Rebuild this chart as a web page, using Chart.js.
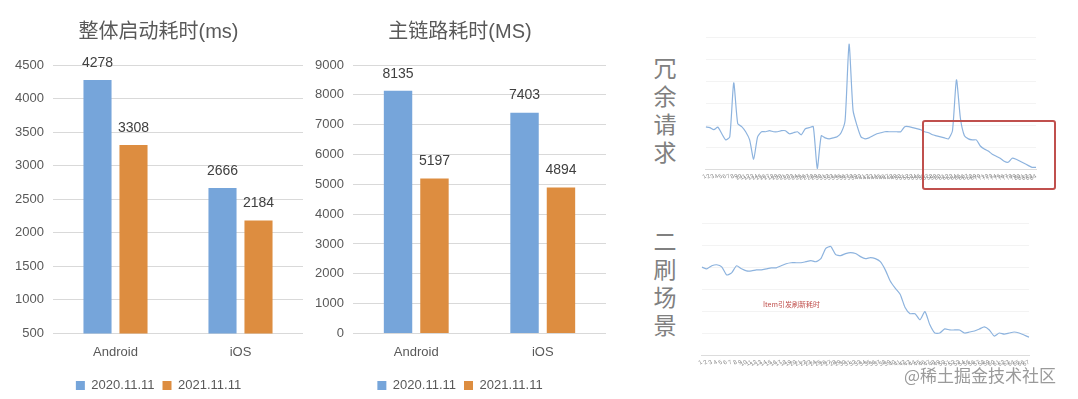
<!DOCTYPE html>
<html>
<head>
<meta charset="utf-8">
<script src="https://cdn.jsdelivr.net/npm/chart.js@4.4.0/dist/chart.umd.min.js"></script>
<style>
body{margin:0;background:#fff;width:1078px;height:399px;overflow:hidden;position:relative;font-family:"Liberation Sans","Noto Sans CJK SC",sans-serif}
.box{position:absolute}
.vtext{position:absolute;left:651px;width:28px;font-family:"Noto Sans CJK SC";color:#808080;font-size:23px;line-height:28px;text-align:center}
.mark{position:absolute;left:922px;top:120px;width:130px;height:66px;border:2px solid #c0504d;border-radius:3px}
.note{position:absolute;left:763px;top:299px;font-family:"Noto Sans CJK SC";font-size:7px;color:#c0504d}
.wm{position:absolute;left:904px;top:362px;font-family:"Noto Sans CJK SC";font-size:17px;color:#9a9a9a;text-shadow:0 0 2px #fff}
</style>
</head>
<body>
<div class="box" style="left:0;top:0;width:320px;height:402px"><canvas id="startup"></canvas></div>
<div class="box" style="left:300px;top:0;width:323px;height:402px"><canvas id="mainlink"></canvas></div>

<div class="vtext" style="top:53px">冗<br>余<br>请<br>求</div>
<div class="box" style="left:700px;top:25px;width:345px;height:160px"><canvas id="requests"></canvas></div>
<div class="mark"></div>

<div class="vtext" style="top:226px">二<br>刷<br>场<br>景</div>
<div class="box" style="left:696px;top:211px;width:345px;height:160px"><canvas id="refresh"></canvas></div>
<div class="note">Item引发刷新耗时</div>
<div class="wm">@稀土掘金技术社区</div>

<script>
var platforms = ['Android', 'iOS'];
var seriesNames = ['2020.11.11', '2021.11.11'];
var startup2020 = [4278, 2666];
var startup2021 = [3308, 2184];
var mainLink2020 = [8135, 7403];
var mainLink2021 = [5197, 4894];

var redundantRequest = [
    41.7, 41, 39, 41.5, 35, 29, 32, 85, 45, 42, 37, 29, 10, 32, 37, 37, 38, 37, 37, 38,
    38, 35, 36, 37, 34, 40, 41, 42, 1, 33, 31, 30, 31, 32, 36, 48, 123, 58, 43, 32,
    30, 31, 33, 35, 36, 37, 37, 37, 37, 37, 42, 42, 41, 40, 39, 37, 36, 34, 33, 32,
    31, 30, 38, 88, 50, 33, 30, 29, 29, 23, 20, 18, 15, 13, 11, 8, 7, 11, 10, 8,
    6, 4, 2, 2
];
var secondRefresh = [
    86.7, 85, 88, 89, 87, 79, 81, 88, 85, 83, 83, 84, 84, 85, 86, 86, 88, 90, 91, 91,
    91, 92, 93, 92, 95, 105, 107, 99, 98, 100, 101, 100, 97, 95, 96, 95, 92, 84, 73, 66,
    60, 47, 41, 41, 35, 43, 30, 22, 22, 26, 25, 25, 25, 22, 23, 24, 26, 28, 25, 19,
    22, 21, 22, 23, 22, 20, 18
];

var blue = '#76a5da';
var orange = '#dd8d40';
var textGray = '#595959';
var gridGray = '#d9d9d9';
var baseFont = '"Liberation Sans", "Noto Sans CJK SC", sans-serif';

var valueLabels = {
    id: 'valueLabels',
    afterDatasetsDraw: function (chart) {
        var ctx = chart.ctx;
        ctx.save();
        ctx.font = '14px ' + baseFont;
        ctx.fillStyle = '#404040';
        ctx.textAlign = 'center';
        ctx.textBaseline = 'middle';
        chart.data.datasets.forEach(function (ds, i) {
            chart.getDatasetMeta(i).data.forEach(function (bar, j) {
                ctx.fillText(ds.data[j], bar.x, bar.y - 17);
            });
        });
        ctx.restore();
    }
};

function barChart(id, title, a, b, min, max, step) {
    return new Chart(document.getElementById(id), {
        type: 'bar',
        data: {
            labels: platforms,
            datasets: [
                { label: seriesNames[0], data: a, backgroundColor: blue },
                { label: seriesNames[1], data: b, backgroundColor: orange }
            ]
        },
        options: {
            responsive: true,
            maintainAspectRatio: false,
            animation: false,
            categoryPercentage: 0.576,
            barPercentage: 0.78,
            layout: { padding: { left: 14, right: 17, top: 0, bottom: 0 } },
            plugins: {
                title: {
                    display: true, text: title, color: textGray,
                    font: { family: baseFont, size: 20, weight: 'normal' },
                    padding: { top: 20, bottom: 21 }
                },
                legend: {
                    position: 'bottom',
                    labels: {
                        boxWidth: 9, boxHeight: 9, padding: 8, color: textGray,
                        font: { family: baseFont, size: 13 }
                    }
                },
                tooltip: { enabled: false }
            },
            scales: {
                x: {
                    grid: { display: false, drawTicks: false },
                    border: { display: false },
                    ticks: { color: textGray, padding: 11, font: { family: baseFont, size: 13 } }
                },
                y: {
                    min: min, max: max,
                    afterFit: function (scale) { scale.width = 39; },
                    grid: { color: gridGray, drawTicks: false },
                    border: { display: false },
                    ticks: {
                        stepSize: step, color: textGray, padding: 9,
                        font: { family: baseFont, size: 13 },
                        callback: function (v) { return String(v); }
                    }
                }
            }
        },
        plugins: [valueLabels]
    });
}

barChart('startup', '整体启动耗时(ms)', startup2020, startup2021, 500, 4500, 500);
barChart('mainlink', '主链路耗时(MS)', mainLink2020, mainLink2021, 0, 9000, 1000);

function lineChart(id, values, padding) {
    var samples = values.map(function (v, i) { return String(i + 1); });
    return new Chart(document.getElementById(id), {
        type: 'line',
        data: {
            labels: samples,
            datasets: [{
                data: values, borderColor: '#8db3de', borderWidth: 1.2,
                pointRadius: 0, tension: 0.2, fill: false
            }]
        },
        options: {
            responsive: true,
            maintainAspectRatio: false,
            animation: false,
            layout: { padding: padding },
            plugins: { legend: { display: false }, tooltip: { enabled: false } },
            scales: {
                x: {
                    offset: false,
                    grid: { display: false, drawTicks: false },
                    border: { color: '#dcdcdc' },
                    ticks: {
                        autoSkip: false, minRotation: 30, maxRotation: 30, padding: 3,
                        color: '#8f8f8f', font: { family: baseFont, size: 6 }
                    }
                },
                y: {
                    min: 0, max: 130,
                    grid: { color: '#f3f3f3', drawTicks: false },
                    border: { display: false },
                    ticks: { display: false, stepSize: 130 / 6 }
                }
            }
        }
    });
}

lineChart('requests', redundantRequest, { left: 3, right: 9, top: 12, bottom: 0 });
lineChart('refresh', secondRefresh, { left: 3, right: 12, top: 12, bottom: 0 });
</script>
</body>
</html>
